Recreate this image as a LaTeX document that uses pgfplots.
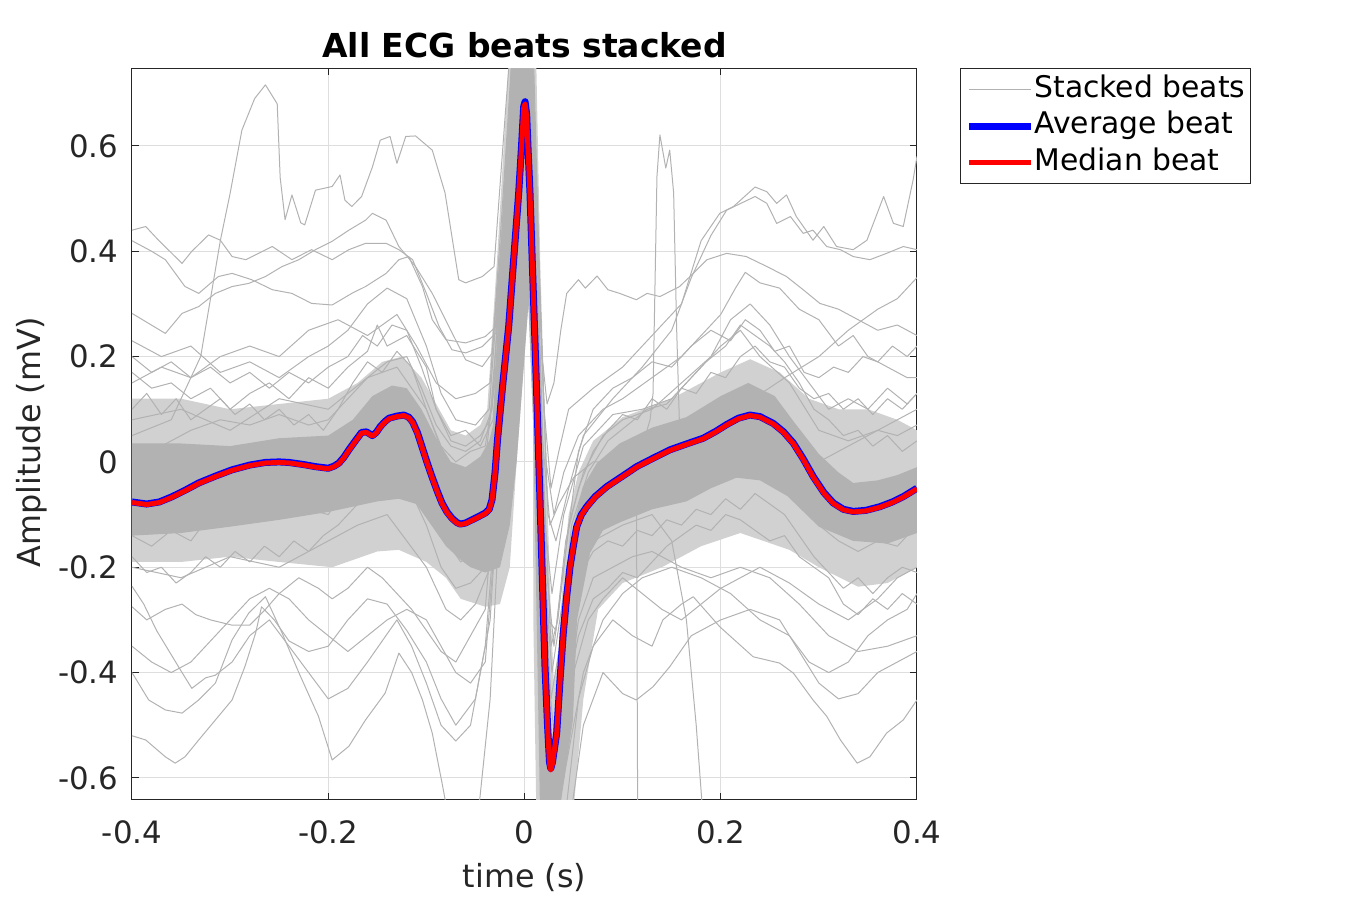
\documentclass[border=0pt]{standalone}
\usepackage{fontspec}
\setmainfont{DejaVu Sans}
\usepackage{pgfplots}
\pgfplotsset{compat=1.18}
\definecolor{axc}{rgb}{0.15,0.15,0.15}
\definecolor{gridc}{rgb}{0.87,0.87,0.87}
\definecolor{beat}{rgb}{0.7,0.7,0.7}
\definecolor{fringe}{rgb}{0.82,0.82,0.82}
\begin{document}
\begin{tikzpicture}
\useasboundingbox (0,0) rectangle (675pt,450pt);
\begin{axis}[
  at={(66pt,50pt)}, anchor=south west,
  scale only axis, width=392.5pt, height=366pt,
  xmin=-0.4, xmax=0.4, ymin=-0.642, ymax=0.748,
  xtick={-0.4,-0.2,0,0.2,0.4}, xticklabels={-0.4,-0.2,0,0.2,0.4},
  ytick={-0.6,-0.4,-0.2,0,0.2,0.4,0.6}, yticklabels={-0.6,-0.4,-0.2,0,0.2,0.4,0.6},
  tick align=inside, tick pos=both, major tick length=3.5pt,
  every tick/.style={axc, line width=0.5pt},
  axis line style={axc, line width=0.5pt},
  grid=major, grid style={gridc, line width=0.5pt},
  ticklabel style={font=\fontsize{15.4}{18}\selectfont, text=axc},
  xticklabel style={anchor=center, yshift=-16.25pt},
  yticklabel style={anchor=east, inner xsep=0pt, xshift=-6.75pt},
  xlabel={time (s)}, ylabel={Amplitude (mV)},
  label style={font=\fontsize{15.9}{19}\selectfont, text=axc},
  xlabel style={at={(axis description cs:0.5,-0.1202)}, anchor=base},
  ylabel style={at={(axis description cs:-0.1166,0.489)}, anchor=base, rotate=0},
  title={All ECG beats stacked},
  title style={font=\fontsize{16.5}{19}\selectfont\bfseries, at={(axis description cs:0.5,0.9986)}, anchor=base},
  legend style={at={(axis description cs:1.0548,1)}, anchor=north west, draw=axc, line width=0.5pt, fill=white,
    inner xsep=2.5pt, inner ysep=1.3pt, font=\fontsize{14.9}{18}\selectfont,
    nodes={inner xsep=0pt, inner ysep=1.75pt, text height=11.3pt, text depth=3.5pt},
    /tikz/every even column/.append style={column sep=3pt}},
  legend cell align=left,
  legend image code/.code={\draw[#1] (0pt,0pt) -- (31pt,0pt);},
  every axis plot/.append style={line join=round},
]
\addlegendimage{beat, line width=0.5pt}
\addlegendimage{blue, line width=3.5pt}
\addlegendimage{red, line width=2.5pt}
\legend{Stacked beats, Average beat, Median beat}

% fringe of the dense bundle
\addplot[fill=fringe, draw=none, forget plot] coordinates {
(-0.4,0.12) (-0.35,0.12) (-0.3,0.10) (-0.25,0.11) (-0.2,0.12) (-0.17,0.15) (-0.145,0.19) (-0.125,0.2) (-0.105,0.16) (-0.09,0.11) (-0.075,0.06) (-0.06,0.05) (-0.045,0.07) (-0.038,0.1) (-0.028,0.384) (-0.016,0.76) (0.012,0.76) (0.016,0.384) (0.02,0.13) (0.023,-0.05) (0.027,-0.3) (0.03,-0.42) (0.035,-0.35) (0.04,-0.2) (0.045,-0.1) (0.055,-0.02) (0.07,0.04) (0.1,0.085) (0.15,0.12) (0.2,0.17) (0.23,0.195) (0.26,0.17) (0.29,0.12) (0.32,0.1) (0.35,0.1) (0.38,0.08) (0.4,0.06)
(0.4,-0.2) (0.37,-0.23) (0.34,-0.237) (0.3,-0.2) (0.27,-0.167) (0.22,-0.135) (0.18,-0.16) (0.14,-0.2) (0.1,-0.23) (0.075,-0.28) (0.06,-0.45) (0.05,-0.66) (0.012,-0.66) (0.009,-0.3) (0.0087,0.08) (0.004,0.3) (-0.008,0.0) (-0.015,-0.2) (-0.025,-0.27) (-0.04,-0.275) (-0.065,-0.26) (-0.08,-0.22) (-0.1,-0.19) (-0.128,-0.167) (-0.15,-0.17) (-0.196,-0.2) (-0.25,-0.19) (-0.3,-0.18) (-0.35,-0.19) (-0.4,-0.19)
};
% dense core of the bundle
\addplot[fill=beat, draw=none, forget plot] coordinates {
(-0.4,0.035) (-0.35,0.035) (-0.3,0.03) (-0.25,0.045) (-0.2,0.05) (-0.175,0.08) (-0.155,0.125) (-0.135,0.145) (-0.12,0.14) (-0.105,0.1) (-0.09,0.045) (-0.075,0.0) (-0.06,-0.01) (-0.045,0.01) (-0.036,0.04) (-0.032,0.07) (-0.023,0.384) (-0.012,0.76) (0.009,0.76) (0.0124,0.384) (0.0158,0.131) (0.0178,-0.047) (0.0229,-0.30) (0.026,-0.56) (0.0328,-0.49) (0.0413,-0.30) (0.0464,-0.173) (0.0515,-0.11) (0.0596,-0.047) (0.0739,-0.002) (0.097,0.035) (0.13,0.065) (0.165,0.085) (0.2,0.125) (0.228,0.15) (0.255,0.125) (0.275,0.075) (0.3,0.015) (0.32,-0.02) (0.335,-0.04) (0.36,-0.035) (0.38,-0.025) (0.4,-0.01)
(0.4,-0.135) (0.37,-0.155) (0.335,-0.15) (0.3,-0.123) (0.268,-0.065) (0.24,-0.035) (0.216,-0.03) (0.19,-0.05) (0.165,-0.075) (0.13,-0.09) (0.097,-0.115) (0.08,-0.13) (0.0668,-0.173) (0.0535,-0.30) (0.0494,-0.49) (0.036,-0.66) (0.0158,-0.66) (0.0124,-0.3) (0.0087,0.08) (0.004,0.3) (-0.008,0.0) (-0.015,-0.12) (-0.025,-0.2) (-0.04,-0.21) (-0.055,-0.2) (-0.065,-0.186) (-0.08,-0.16) (-0.095,-0.12) (-0.11,-0.08) (-0.128,-0.07) (-0.15,-0.075) (-0.175,-0.085) (-0.2,-0.095) (-0.25,-0.11) (-0.3,-0.123) (-0.35,-0.135) (-0.4,-0.14)
};

% individual beats near the bundle
\addplot[beat, line width=0.5pt, forget plot] coordinates {
(-0.4,0.2) (-0.38,0.17) (-0.36,0.19) (-0.34,0.16) (-0.32,0.18) (-0.3,0.15) (-0.28,0.17) (-0.26,0.14) (-0.24,0.17) (-0.22,0.15) (-0.2,0.18) (-0.18,0.2) (-0.165,0.24) (-0.15,0.22) (-0.135,0.26) (-0.12,0.25) (-0.105,0.18) (-0.09,0.1) (-0.075,0.04) (-0.06,0.03) (-0.045,0.05) (-0.035,0.08) (-0.024,0.35) (-0.012,0.78) (0.004,0.78) (0.012,0.25) (0.02,-0.2) (0.027,-0.45) (0.036,-0.35) (0.048,-0.12) (0.065,-0.02) (0.085,0.04) (0.105,0.07) (0.125,0.1) (0.145,0.11) (0.165,0.15) (0.185,0.19) (0.205,0.22) (0.22,0.26) (0.235,0.24) (0.25,0.22) (0.265,0.19) (0.28,0.15) (0.295,0.1) (0.31,0.08) (0.325,0.05) (0.34,0.06) (0.355,0.03) (0.37,0.05) (0.385,0.02) (0.4,0.04)
};
\addplot[beat, line width=0.5pt, forget plot] coordinates {
(-0.4,-0.18) (-0.385,-0.21) (-0.37,-0.2) (-0.355,-0.23) (-0.34,-0.21) (-0.325,-0.18) (-0.31,-0.2) (-0.295,-0.17) (-0.28,-0.19) (-0.265,-0.16) (-0.25,-0.18) (-0.235,-0.15) (-0.22,-0.17) (-0.205,-0.14) (-0.19,-0.12) (-0.175,-0.09) (-0.16,-0.06) (-0.145,-0.05) (-0.13,-0.04) (-0.115,-0.06) (-0.1,-0.12) (-0.085,-0.2) (-0.07,-0.24) (-0.055,-0.23) (-0.04,-0.2) (-0.03,-0.05) (-0.016,0.55) (-0.002,0.72) (0.008,0.3) (0.016,-0.2) (0.024,-0.5) (0.032,-0.58) (0.042,-0.4) (0.055,-0.22) (0.07,-0.17) (0.085,-0.15) (0.1,-0.16) (0.115,-0.13) (0.13,-0.14) (0.145,-0.11) (0.16,-0.12) (0.175,-0.09) (0.19,-0.1) (0.205,-0.07) (0.22,-0.09) (0.235,-0.06) (0.25,-0.08) (0.265,-0.1) (0.28,-0.14) (0.295,-0.18) (0.31,-0.21) (0.325,-0.24) (0.34,-0.22) (0.355,-0.25) (0.37,-0.22) (0.385,-0.2) (0.4,-0.21)
};
\addplot[beat, line width=0.5pt, forget plot] coordinates {
(-0.4,0.1) (-0.385,0.13) (-0.37,0.09) (-0.355,0.12) (-0.34,0.08) (-0.325,0.1) (-0.31,0.12) (-0.295,0.09) (-0.28,0.11) (-0.265,0.08) (-0.25,0.1) (-0.235,0.07) (-0.22,0.09) (-0.205,0.06) (-0.19,0.1) (-0.175,0.15) (-0.16,0.19) (-0.145,0.17) (-0.13,0.21) (-0.115,0.18) (-0.1,0.1) (-0.085,0.03) (-0.07,0.0) (-0.055,0.02) (-0.04,0.03) (-0.03,0.15) (-0.016,0.6) (-0.004,0.8) (0.008,0.5) (0.016,0.0) (0.024,-0.3) (0.032,-0.32) (0.042,-0.15) (0.055,-0.05) (0.07,0.02) (0.085,0.06) (0.1,0.09) (0.115,0.08) (0.13,0.12) (0.145,0.1) (0.16,0.14) (0.175,0.13) (0.19,0.17) (0.205,0.16) (0.22,0.2) (0.235,0.22) (0.25,0.19) (0.265,0.18) (0.28,0.14) (0.295,0.12) (0.31,0.13) (0.325,0.1) (0.34,0.12) (0.355,0.09) (0.37,0.12) (0.385,0.1) (0.4,0.13)
};
\addplot[beat, line width=0.5pt, forget plot] coordinates {
(-0.4,-0.14) (-0.38,-0.16) (-0.36,-0.13) (-0.34,-0.15) (-0.32,-0.1) (-0.3,-0.12) (-0.28,-0.08) (-0.26,-0.1) (-0.24,-0.07) (-0.22,-0.09) (-0.2,-0.1) (-0.185,-0.06) (-0.17,-0.02) (-0.155,-0.01) (-0.14,0.02) (-0.125,0.03) (-0.11,-0.01) (-0.095,-0.08) (-0.08,-0.15) (-0.065,-0.19) (-0.05,-0.17) (-0.038,-0.14) (-0.028,0.1) (-0.014,0.65) (0.0,0.76) (0.01,0.2) (0.018,-0.35) (0.026,-0.62) (0.036,-0.5) (0.048,-0.25) (0.062,-0.13) (0.08,-0.1) (0.1,-0.07) (0.12,-0.06) (0.14,-0.03) (0.16,-0.04) (0.18,-0.01) (0.2,0.0) (0.22,0.02) (0.24,0.0) (0.26,-0.03) (0.28,-0.08) (0.3,-0.12) (0.32,-0.15) (0.34,-0.17) (0.36,-0.15) (0.38,-0.16) (0.4,-0.12)
};
\addplot[beat, line width=0.5pt, forget plot] coordinates {
(-0.4,0.0) (-0.37,0.03) (-0.34,0.06) (-0.31,0.08) (-0.28,0.07) (-0.25,0.09) (-0.22,0.07) (-0.2,0.08) (-0.18,0.12) (-0.16,0.16) (-0.14,0.19) (-0.12,0.2) (-0.105,0.14) (-0.09,0.07) (-0.075,0.03) (-0.06,0.02) (-0.045,0.04) (-0.033,0.1) (-0.02,0.5) (-0.006,0.8) (0.006,0.75) (0.014,0.25) (0.022,-0.2) (0.03,-0.35) (0.04,-0.2) (0.055,0.02) (0.07,0.1) (0.09,0.14) (0.11,0.16) (0.13,0.19) (0.15,0.18) (0.17,0.22) (0.19,0.25) (0.21,0.23) (0.225,0.27) (0.24,0.25) (0.255,0.21) (0.27,0.22) (0.285,0.17) (0.3,0.16) (0.315,0.18) (0.33,0.17) (0.345,0.2) (0.36,0.19) (0.375,0.22) (0.39,0.2) (0.4,0.22)
};
\addplot[beat, line width=0.5pt, forget plot] coordinates {
(-0.4,-0.1) (-0.37,-0.12) (-0.34,-0.09) (-0.31,-0.07) (-0.28,-0.05) (-0.25,-0.06) (-0.22,-0.04) (-0.2,-0.05) (-0.18,0.0) (-0.16,0.03) (-0.14,0.06) (-0.12,0.05) (-0.1,-0.04) (-0.085,-0.1) (-0.07,-0.13) (-0.055,-0.12) (-0.04,-0.11) (-0.03,0.0) (-0.016,0.5) (-0.002,0.7) (0.008,0.3) (0.016,-0.1) (0.024,-0.4) (0.032,-0.55) (0.042,-0.45) (0.055,-0.33) (0.07,-0.26) (0.085,-0.24) (0.1,-0.21) (0.115,-0.22) (0.13,-0.19) (0.145,-0.16) (0.16,-0.14) (0.175,-0.12) (0.19,-0.13) (0.205,-0.1) (0.22,-0.11) (0.235,-0.13) (0.25,-0.15) (0.265,-0.14) (0.28,-0.18) (0.295,-0.2) (0.31,-0.22) (0.325,-0.27) (0.34,-0.29) (0.355,-0.26) (0.37,-0.28) (0.385,-0.25) (0.4,-0.27)
};

% individual outlying beats
\addplot[beat, line width=0.5pt, forget plot] coordinates {
(-0.4,0.05) (-0.36,0.08) (-0.33,0.2) (-0.31,0.42) (-0.3,0.51) (-0.288,0.63) (-0.275,0.69) (-0.264,0.716) (-0.252,0.68) (-0.249,0.54) (-0.244,0.46) (-0.237,0.507) (-0.228,0.454) (-0.224,0.45) (-0.213,0.516) (-0.196,0.523) (-0.188,0.545) (-0.183,0.497) (-0.176,0.485) (-0.166,0.504) (-0.155,0.56) (-0.147,0.611) (-0.137,0.618) (-0.130,0.567) (-0.121,0.618) (-0.111,0.619) (-0.094,0.592) (-0.081,0.511) (-0.067,0.346) (-0.060,0.34) (-0.043,0.352) (-0.031,0.371) (-0.02,0.65) (-0.01,0.9) (0.005,0.9) (0.012,0.5) (0.018,0.2) (0.023,0.11) (0.03,0.15) (0.037,0.25) (0.043,0.32) (0.055,0.346) (0.062,0.33) (0.074,0.353) (0.085,0.327) (0.097,0.32) (0.114,0.308) (0.125,0.32) (0.138,0.314) (0.158,0.333) (0.172,0.358) (0.186,0.384) (0.206,0.396) (0.226,0.39) (0.247,0.371) (0.267,0.352) (0.284,0.327) (0.301,0.301) (0.32,0.29) (0.34,0.27) (0.36,0.25) (0.38,0.26) (0.4,0.24)
};
\addplot[beat, line width=0.5pt, forget plot] coordinates {
(-0.4,0.44) (-0.386,0.447) (-0.373,0.421) (-0.349,0.377) (-0.339,0.4) (-0.322,0.431) (-0.31,0.421) (-0.298,0.39) (-0.284,0.384) (-0.271,0.396) (-0.257,0.409) (-0.237,0.384) (-0.217,0.403) (-0.196,0.384) (-0.179,0.403) (-0.162,0.415) (-0.141,0.415) (-0.128,0.403) (-0.114,0.384) (-0.1,0.32) (-0.087,0.257) (-0.074,0.213) (-0.06,0.207) (-0.043,0.219) (-0.029,0.245) (-0.018,0.6) (-0.008,0.85) (0.006,0.85) (0.014,0.4) (0.02,0.1) (0.027,-0.05) (0.035,0.02) (0.045,0.1) (0.07,0.14) (0.1,0.18) (0.13,0.24) (0.16,0.3) (0.18,0.42) (0.199,0.472) (0.213,0.485) (0.235,0.522) (0.247,0.513) (0.257,0.491) (0.267,0.507) (0.277,0.466) (0.294,0.421) (0.305,0.447) (0.318,0.409) (0.335,0.403) (0.349,0.421) (0.366,0.504) (0.376,0.453) (0.386,0.447) (0.396,0.535) (0.4,0.58)
};
\addplot[beat, line width=0.5pt, forget plot] coordinates {
(-0.4,0.42) (-0.38,0.4) (-0.366,0.384) (-0.346,0.333) (-0.332,0.32) (-0.312,0.352) (-0.298,0.358) (-0.278,0.346) (-0.257,0.327) (-0.237,0.32) (-0.217,0.301) (-0.196,0.298) (-0.176,0.32) (-0.162,0.333) (-0.141,0.358) (-0.128,0.384) (-0.118,0.39) (-0.104,0.333) (-0.094,0.27) (-0.08,0.232) (-0.06,0.226) (-0.04,0.238) (-0.029,0.257) (-0.018,0.55) (-0.007,0.85) (0.007,0.85) (0.015,0.35) (0.022,0.0) (0.03,-0.1) (0.04,-0.02) (0.055,0.05) (0.08,0.1) (0.1,0.12) (0.13,0.16) (0.16,0.2) (0.18,0.24) (0.2,0.28) (0.215,0.33) (0.225,0.36) (0.24,0.34) (0.26,0.33) (0.28,0.29) (0.3,0.27) (0.32,0.22) (0.335,0.24) (0.35,0.2) (0.37,0.18) (0.39,0.16) (0.4,0.16)
};
\addplot[beat, line width=0.5pt, forget plot] coordinates {
(-0.4,0.282) (-0.383,0.263) (-0.366,0.244) (-0.349,0.282) (-0.332,0.295) (-0.315,0.32) (-0.298,0.333) (-0.281,0.339) (-0.264,0.352) (-0.247,0.371) (-0.23,0.384) (-0.213,0.403) (-0.196,0.419) (-0.179,0.44) (-0.162,0.459) (-0.155,0.472) (-0.141,0.459) (-0.128,0.409) (-0.111,0.371) (-0.094,0.32) (-0.077,0.257) (-0.06,0.194) (-0.043,0.181) (-0.033,0.207) (-0.02,0.5) (-0.008,0.85) (0.008,0.85) (0.016,0.3) (0.024,-0.1) (0.032,-0.15) (0.045,-0.05) (0.06,0.05) (0.09,0.12) (0.12,0.18) (0.15,0.25) (0.17,0.35) (0.19,0.43) (0.206,0.478) (0.235,0.504) (0.247,0.491) (0.257,0.453) (0.271,0.466) (0.284,0.434) (0.294,0.44) (0.308,0.409) (0.322,0.403) (0.335,0.39) (0.352,0.384) (0.369,0.396) (0.386,0.409) (0.4,0.403)
};
\addplot[beat, line width=0.5pt, forget plot] coordinates {
(-0.4,0.15) (-0.37,0.18) (-0.34,0.16) (-0.31,0.2) (-0.28,0.22) (-0.25,0.2) (-0.22,0.25) (-0.19,0.27) (-0.16,0.24) (-0.13,0.28) (-0.11,0.22) (-0.09,0.15) (-0.07,0.12) (-0.05,0.13) (-0.035,0.15) (-0.022,0.5) (-0.01,0.85) (0.005,0.85) (0.012,0.4) (0.018,0.05) (0.026,-0.12) (0.035,-0.08) (0.05,-0.03) (0.07,0.0) (0.1,0.0) (0.12,0.03) (0.128,0.08) (0.131,0.13) (0.135,0.542) (0.138,0.621) (0.144,0.558) (0.148,0.592) (0.152,0.511) (0.155,0.257) (0.158,0.067) (0.165,0.02) (0.18,0.05) (0.2,0.08) (0.22,0.12) (0.24,0.1) (0.26,0.08) (0.28,0.03) (0.3,0.0) (0.32,0.02) (0.35,0.05) (0.38,0.08) (0.4,0.1)
};
\addplot[beat, line width=0.5pt, forget plot] coordinates {
(-0.4,0.23) (-0.37,0.2) (-0.34,0.22) (-0.31,0.17) (-0.28,0.19) (-0.25,0.16) (-0.22,0.2) (-0.2,0.22) (-0.18,0.25) (-0.16,0.3) (-0.14,0.33) (-0.12,0.31) (-0.1,0.22) (-0.085,0.13) (-0.07,0.08) (-0.05,0.07) (-0.036,0.1) (-0.022,0.45) (-0.01,0.8) (0.006,0.8) (0.013,0.4) (0.02,-0.05) (0.027,-0.35) (0.034,-0.3) (0.045,-0.12) (0.06,-0.02) (0.08,0.05) (0.1,0.08) (0.13,0.1) (0.16,0.15) (0.19,0.2) (0.21,0.27) (0.23,0.3) (0.25,0.26) (0.27,0.2) (0.29,0.15) (0.31,0.1) (0.33,0.12) (0.35,0.1) (0.37,0.14) (0.39,0.11) (0.4,0.13)
};
\addplot[beat, line width=0.5pt, forget plot] coordinates {
(-0.4,0.17) (-0.38,0.14) (-0.36,0.15) (-0.34,0.12) (-0.32,0.14) (-0.3,0.1) (-0.28,0.13) (-0.26,0.15) (-0.24,0.12) (-0.22,0.16) (-0.2,0.14) (-0.18,0.18) (-0.16,0.21) (-0.15,0.26) (-0.14,0.22) (-0.12,0.24) (-0.1,0.18) (-0.09,0.1) (-0.075,0.05) (-0.06,0.06) (-0.045,0.03) (-0.032,0.08) (-0.02,0.4) (-0.008,0.75) (0.006,0.7) (0.013,0.3) (0.02,-0.1) (0.028,-0.25) (0.04,-0.1) (0.06,0.03) (0.09,0.09) (0.12,0.1) (0.15,0.12) (0.18,0.18) (0.2,0.22) (0.22,0.25) (0.24,0.2) (0.27,0.15) (0.3,0.06) (0.33,0.04) (0.36,0.06) (0.38,0.05) (0.4,0.07)
};
\addplot[beat, line width=0.5pt, forget plot] coordinates {
(-0.4,0.08) (-0.35,0.1) (-0.3,0.06) (-0.25,0.12) (-0.2,0.1) (-0.16,0.16) (-0.13,0.18) (-0.1,0.1) (-0.08,0.0) (-0.06,-0.03) (-0.04,0.0) (-0.028,0.2) (-0.012,0.8) (0.004,0.8) (0.012,0.2) (0.02,-0.2) (0.028,-0.4) (0.04,-0.25) (0.06,-0.05) (0.09,0.02) (0.12,0.05) (0.15,0.06) (0.2,0.08) (0.233,0.12) (0.267,0.162) (0.3,0.2) (0.33,0.25) (0.36,0.29) (0.38,0.31) (0.4,0.35)
};
\addplot[beat, line width=0.5pt, forget plot] coordinates {
(-0.4,-0.52) (-0.386,-0.528) (-0.366,-0.56) (-0.356,-0.572) (-0.346,-0.56) (-0.332,-0.528) (-0.315,-0.49) (-0.298,-0.452) (-0.285,-0.389) (-0.274,-0.325) (-0.268,-0.275) (-0.255,-0.3) (-0.24,-0.34) (-0.22,-0.36) (-0.2,-0.35) (-0.18,-0.3) (-0.16,-0.26) (-0.14,-0.27) (-0.12,-0.32) (-0.1,-0.38) (-0.085,-0.45) (-0.07,-0.5) (-0.05,-0.45) (-0.035,-0.3) (-0.02,0.15) (-0.008,0.8) (0.005,0.8) (0.012,0.2) (0.02,-0.4) (0.028,-0.75) (0.04,-0.7) (0.055,-0.45) (0.07,-0.35) (0.09,-0.3) (0.11,-0.33) (0.13,-0.35) (0.141,-0.3) (0.16,-0.27) (0.172,-0.256) (0.199,-0.313) (0.233,-0.37) (0.26,-0.382) (0.274,-0.401) (0.294,-0.452) (0.308,-0.483) (0.322,-0.528) (0.339,-0.572) (0.352,-0.56) (0.369,-0.515) (0.386,-0.49) (0.4,-0.452)
};
\addplot[beat, line width=0.5pt, forget plot] coordinates {
(-0.4,-0.40) (-0.383,-0.452) (-0.366,-0.471) (-0.349,-0.477) (-0.332,-0.452) (-0.315,-0.42) (-0.298,-0.338) (-0.281,-0.287) (-0.264,-0.256) (-0.247,-0.325) (-0.23,-0.40) (-0.21,-0.483) (-0.196,-0.566) (-0.179,-0.54) (-0.162,-0.49) (-0.142,-0.439) (-0.128,-0.363) (-0.115,-0.4) (-0.104,-0.452) (-0.094,-0.515) (-0.084,-0.61) (-0.075,-0.7) (-0.05,-0.72) (-0.035,-0.45) (-0.02,0.1) (-0.006,0.8) (0.006,0.8) (0.014,0.1) (0.022,-0.5) (0.03,-0.8) (0.045,-0.7) (0.06,-0.5) (0.08,-0.4) (0.1,-0.44) (0.114,-0.452) (0.131,-0.427) (0.148,-0.389) (0.17,-0.33) (0.2,-0.3) (0.23,-0.28) (0.26,-0.3) (0.28,-0.36) (0.3,-0.42) (0.32,-0.45) (0.34,-0.44) (0.36,-0.4) (0.38,-0.38) (0.4,-0.36)
};
\addplot[beat, line width=0.5pt, forget plot] coordinates {
(-0.4,-0.236) (-0.388,-0.27) (-0.375,-0.32) (-0.349,-0.40) (-0.339,-0.43) (-0.325,-0.41) (-0.315,-0.405) (-0.298,-0.38) (-0.28,-0.33) (-0.26,-0.3) (-0.24,-0.35) (-0.22,-0.4) (-0.2,-0.45) (-0.18,-0.43) (-0.16,-0.38) (-0.145,-0.34) (-0.13,-0.3) (-0.115,-0.35) (-0.1,-0.42) (-0.085,-0.5) (-0.07,-0.53) (-0.055,-0.5) (-0.04,-0.35) (-0.025,0.0) (-0.01,0.7) (0.004,0.7) (0.012,0.1) (0.02,-0.45) (0.03,-0.7) (0.045,-0.55) (0.06,-0.4) (0.08,-0.3) (0.1,-0.25) (0.12,-0.22) (0.15,-0.2) (0.18,-0.22) (0.21,-0.25) (0.24,-0.3) (0.27,-0.33) (0.29,-0.38) (0.31,-0.4) (0.33,-0.38) (0.35,-0.33) (0.37,-0.3) (0.39,-0.28) (0.4,-0.25)
};
\addplot[beat, line width=0.5pt, forget plot] coordinates {
(-0.4,-0.275) (-0.385,-0.3) (-0.366,-0.28) (-0.349,-0.27) (-0.335,-0.29) (-0.32,-0.3) (-0.298,-0.31) (-0.28,-0.31) (-0.264,-0.28) (-0.25,-0.25) (-0.23,-0.22) (-0.21,-0.24) (-0.196,-0.26) (-0.18,-0.24) (-0.16,-0.2) (-0.145,-0.22) (-0.13,-0.25) (-0.115,-0.28) (-0.1,-0.32) (-0.085,-0.36) (-0.07,-0.38) (-0.055,-0.33) (-0.04,-0.28) (-0.028,0.0) (-0.012,0.75) (0.004,0.78) (0.012,0.0) (0.02,-0.5) (0.028,-0.62) (0.04,-0.5) (0.055,-0.3) (0.07,-0.22) (0.09,-0.2) (0.11,-0.18) (0.13,-0.17) (0.16,-0.2) (0.19,-0.22) (0.22,-0.2) (0.25,-0.22) (0.28,-0.27) (0.31,-0.33) (0.34,-0.36) (0.37,-0.35) (0.4,-0.33)
};
\addplot[beat, line width=0.5pt, forget plot] coordinates {
(-0.4,-0.35) (-0.38,-0.38) (-0.36,-0.4) (-0.34,-0.38) (-0.32,-0.34) (-0.3,-0.3) (-0.28,-0.26) (-0.26,-0.24) (-0.24,-0.26) (-0.22,-0.3) (-0.2,-0.33) (-0.18,-0.36) (-0.16,-0.33) (-0.14,-0.3) (-0.12,-0.28) (-0.1,-0.3) (-0.085,-0.35) (-0.07,-0.4) (-0.055,-0.42) (-0.04,-0.38) (-0.028,-0.1) (-0.014,0.6) (0.002,0.75) (0.01,0.1) (0.018,-0.4) (0.026,-0.68) (0.04,-0.6) (0.05,-0.4) (0.065,-0.3) (0.08,-0.26) (0.1,-0.22) (0.12,-0.25) (0.14,-0.28) (0.16,-0.3) (0.18,-0.27) (0.2,-0.24) (0.22,-0.22) (0.24,-0.2) (0.27,-0.23) (0.3,-0.27) (0.33,-0.3) (0.36,-0.26) (0.38,-0.22) (0.4,-0.2)
};
\addplot[beat, line width=0.5pt, forget plot] coordinates {
(-0.4,-0.2) (-0.35,-0.22) (-0.3,-0.18) (-0.25,-0.2) (-0.2,-0.15) (-0.17,-0.12) (-0.14,-0.1) (-0.12,-0.15) (-0.1,-0.2) (-0.08,-0.28) (-0.065,-0.3) (-0.05,-0.27) (-0.035,-0.2) (-0.022,0.2) (-0.01,0.7) (0.004,0.7) (0.012,0.1) (0.02,-0.3) (0.027,-0.55) (0.038,-0.45) (0.05,-0.25) (0.07,-0.15) (0.1,-0.12) (0.13,-0.1) (0.15,-0.15) (0.165,-0.3) (0.175,-0.5) (0.183,-0.7)
};
\addplot[beat, line width=0.5pt, forget plot] coordinates {
(-0.4,-0.05) (-0.35,-0.03) (-0.3,0.0) (-0.25,0.02) (-0.2,0.01) (-0.16,0.07) (-0.13,0.1) (-0.1,0.02) (-0.08,-0.08) (-0.065,-0.1) (-0.05,-0.09) (-0.035,-0.06) (-0.025,0.15) (-0.01,0.7) (0.003,0.72) (0.012,0.1) (0.02,-0.35) (0.027,-0.6) (0.035,-0.5) (0.05,-0.15) (0.07,-0.06) (0.09,-0.03) (0.114,-0.005) (0.1155,-0.75) (0.2,-0.75)
};

% average and median beats
\addplot[blue, line width=3.5pt, forget plot] coordinates {
(-0.4,-0.076) (-0.385,-0.080) (-0.372,-0.076) (-0.359,-0.066) (-0.345,-0.053) (-0.332,-0.040) (-0.315,-0.027) (-0.298,-0.015) (-0.28,-0.006) (-0.264,-0.001) (-0.25,0.0) (-0.24,-0.001) (-0.225,-0.005) (-0.213,-0.009) (-0.2,-0.012) (-0.194,-0.008) (-0.189,-0.002) (-0.184,0.009) (-0.179,0.023) (-0.172,0.041) (-0.166,0.056) (-0.161,0.057) (-0.155,0.050) (-0.151,0.056) (-0.147,0.067) (-0.142,0.077) (-0.138,0.083) (-0.13,0.087) (-0.123,0.089) (-0.118,0.085) (-0.114,0.076) (-0.109,0.055) (-0.1045,0.029) (-0.0995,0.0) (-0.0943,-0.028) (-0.089,-0.055) (-0.0841,-0.078) (-0.079,-0.095) (-0.0739,-0.107) (-0.069,-0.115) (-0.0654,-0.118) (-0.06,-0.116) (-0.0535,-0.110) (-0.047,-0.104) (-0.0399,-0.097) (-0.036,-0.09) (-0.0331,-0.072) (-0.030,-0.02) (-0.0275,0.042) (-0.022,0.15) (-0.0161,0.257) (-0.011,0.385) (-0.0059,0.511) (-0.003,0.60) (-0.0008,0.675) (0.0006,0.684) (0.0022,0.660) (0.0035,0.600) (0.0056,0.511) (0.0073,0.415) (0.0090,0.321) (0.0124,0.131) (0.0158,-0.072) (0.0185,-0.24) (0.0209,-0.389) (0.0235,-0.50) (0.0255,-0.570) (0.0268,-0.582) (0.0285,-0.570) (0.0328,-0.515) (0.036,-0.42) (0.0395,-0.325) (0.043,-0.255) (0.0464,-0.199) (0.050,-0.157) (0.0532,-0.123) (0.058,-0.100) (0.0634,-0.085) (0.072,-0.066) (0.0838,-0.047) (0.1,-0.027) (0.1143,-0.009) (0.13,0.006) (0.1483,0.023) (0.165,0.034) (0.1822,0.045) (0.195,0.058) (0.2061,0.071) (0.218,0.083) (0.2298,0.089) (0.24,0.086) (0.2536,0.073) (0.264,0.057) (0.2739,0.036) (0.284,0.006) (0.2943,-0.028) (0.305,-0.058) (0.3147,-0.078) (0.325,-0.090) (0.3351,-0.094) (0.348,-0.092) (0.3623,-0.085) (0.375,-0.076) (0.386,-0.066) (0.4,-0.050)
};
\addplot[red, line width=2.5pt, forget plot] coordinates {
(-0.4,-0.077) (-0.385,-0.081) (-0.372,-0.077) (-0.359,-0.067) (-0.345,-0.054) (-0.332,-0.041) (-0.315,-0.028) (-0.298,-0.016) (-0.28,-0.007) (-0.264,-0.002) (-0.25,-0.001) (-0.24,-0.002) (-0.225,-0.006) (-0.213,-0.010) (-0.2,-0.013) (-0.194,-0.009) (-0.189,-0.003) (-0.184,0.008) (-0.179,0.022) (-0.172,0.040) (-0.166,0.055) (-0.161,0.056) (-0.155,0.049) (-0.151,0.055) (-0.147,0.066) (-0.142,0.076) (-0.138,0.082) (-0.13,0.086) (-0.123,0.088) (-0.118,0.084) (-0.114,0.075) (-0.109,0.054) (-0.1045,0.028) (-0.0995,-0.001) (-0.0943,-0.029) (-0.089,-0.056) (-0.0841,-0.079) (-0.079,-0.096) (-0.0739,-0.108) (-0.069,-0.116) (-0.0654,-0.119) (-0.06,-0.117) (-0.0535,-0.111) (-0.047,-0.105) (-0.0399,-0.098) (-0.036,-0.091) (-0.0331,-0.073) (-0.030,-0.021) (-0.0275,0.041) (-0.022,0.149) (-0.0161,0.256) (-0.011,0.384) (-0.0059,0.510) (-0.003,0.598) (-0.0008,0.672) (0.0006,0.680) (0.0022,0.657) (0.0035,0.598) (0.0056,0.510) (0.0073,0.414) (0.0090,0.320) (0.0124,0.130) (0.0158,-0.073) (0.0185,-0.241) (0.0209,-0.390) (0.0235,-0.502) (0.0255,-0.573) (0.0268,-0.585) (0.0285,-0.573) (0.0328,-0.516) (0.036,-0.421) (0.0395,-0.326) (0.043,-0.256) (0.0464,-0.200) (0.050,-0.158) (0.0532,-0.124) (0.058,-0.101) (0.0634,-0.086) (0.072,-0.067) (0.0838,-0.048) (0.1,-0.028) (0.1143,-0.010) (0.13,0.005) (0.1483,0.022) (0.165,0.033) (0.1822,0.044) (0.195,0.057) (0.2061,0.070) (0.218,0.082) (0.2298,0.088) (0.24,0.085) (0.2536,0.072) (0.264,0.056) (0.2739,0.035) (0.284,0.005) (0.2943,-0.029) (0.305,-0.059) (0.3147,-0.079) (0.325,-0.091) (0.3351,-0.095) (0.348,-0.093) (0.3623,-0.086) (0.375,-0.077) (0.386,-0.067) (0.4,-0.051)
};
\end{axis}
\end{tikzpicture}
\end{document}
